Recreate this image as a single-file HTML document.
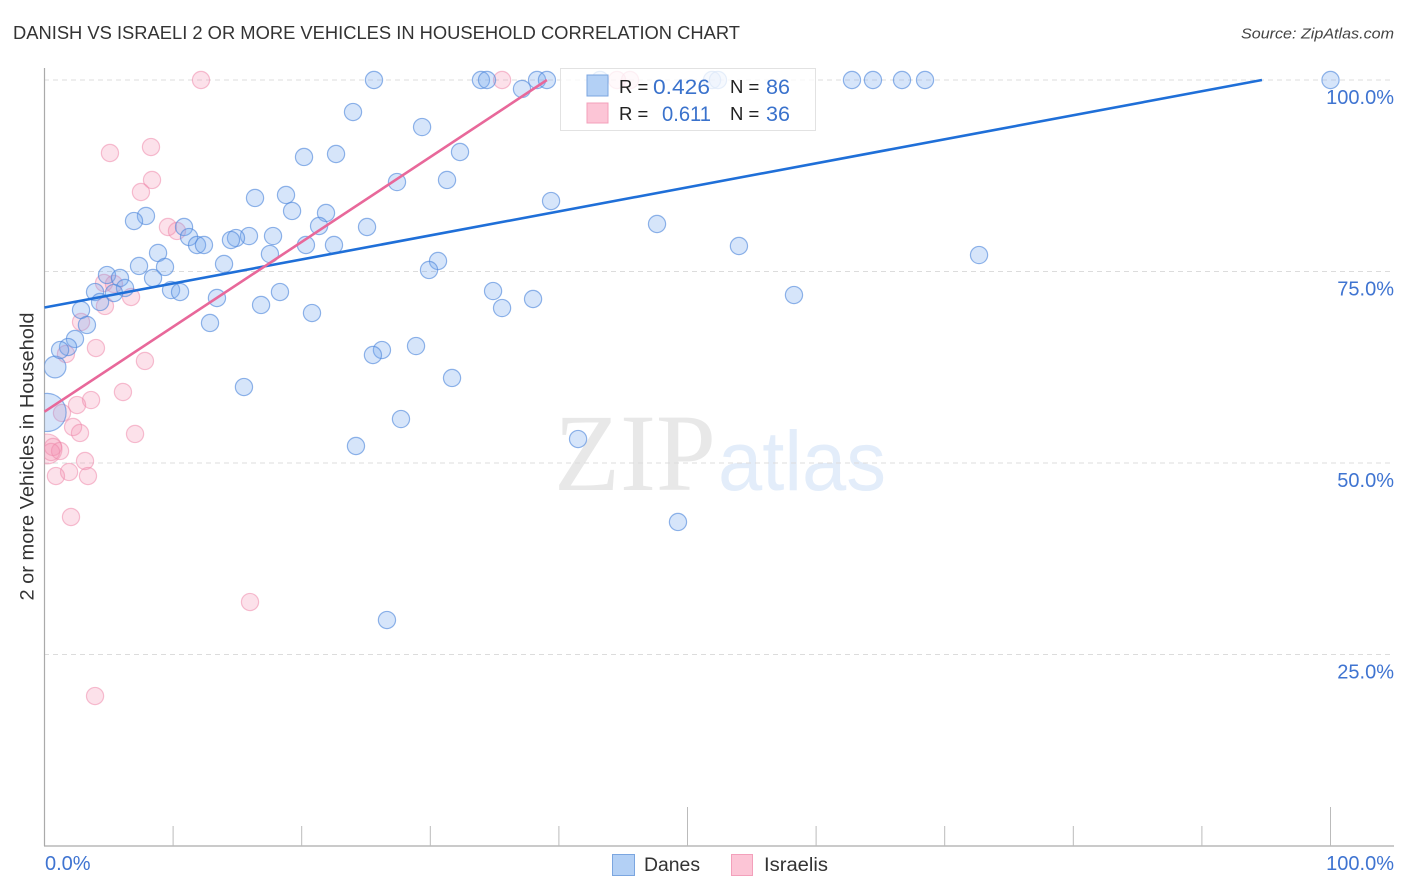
<!DOCTYPE html>
<html lang="en">
<head>
<meta charset="utf-8">
<title>Danish vs Israeli 2 or More Vehicles in Household Correlation Chart</title>
<style>
html,body{margin:0;padding:0;background:#fff;}
svg{display:block;font-family:"Liberation Sans",sans-serif;}
</style>
</head>
<body>
<svg id="chart" width="1406" height="892" viewBox="0 0 1406 892" xmlns="http://www.w3.org/2000/svg">
  <defs>
    <clipPath id="plot-clip"><rect x="44.5" y="60" width="1350" height="786"/></clipPath>
  </defs>
  <text x="13" y="39" font-size="18" fill="#333" textLength="727" lengthAdjust="spacingAndGlyphs">DANISH VS ISRAELI 2 OR MORE VEHICLES IN HOUSEHOLD CORRELATION CHART</text>
  <text x="1241" y="38.5" font-size="15" font-style="italic" fill="#444" textLength="153" lengthAdjust="spacingAndGlyphs">Source: ZipAtlas.com</text>
  <text transform="translate(33.5,456.5) rotate(-90)" font-size="19" fill="#333" text-anchor="middle" textLength="288" lengthAdjust="spacingAndGlyphs">2 or more Vehicles in Household</text>
  <g>
    <text x="554" y="490" font-family="'Liberation Serif',serif" font-size="110" fill="#e8e8e8" textLength="162" lengthAdjust="spacingAndGlyphs">ZIP</text>
    <text x="718" y="490" font-size="84" fill="#e3edfa" textLength="168" lengthAdjust="spacingAndGlyphs">atlas</text>
  </g>
  <g id="grid"></g>
  <g id="axes"></g>
  <g clip-path="url(#plot-clip)">
    <g id="israeli-points"></g>
    <g id="dane-points"></g>
  </g>
  <g id="trends"></g>

  <g>
    <rect x="560.5" y="68.5" width="255" height="62" fill="#fff" fill-opacity="0.78" stroke="#e2e2e2"/>
    <rect x="587" y="75" width="21" height="21" fill="#b3d0f5" stroke="#7ba6e0"/>
    <rect x="587" y="103" width="21" height="20" fill="#fcc5d6" stroke="#f3a0bb"/>
    <text x="619" y="93" font-size="18.5" fill="#222">R =</text>
    <text x="653" y="94" font-size="21" fill="#3a72cc" textLength="57" lengthAdjust="spacingAndGlyphs">0.426</text>
    <text x="730" y="93" font-size="18.5" fill="#222">N =</text>
    <text x="766" y="94" font-size="21" fill="#3a72cc" textLength="24" lengthAdjust="spacingAndGlyphs">86</text>
    <text x="619" y="120" font-size="18.5" fill="#222">R =</text>
    <text x="662" y="121" font-size="21" fill="#3a72cc" textLength="49" lengthAdjust="spacingAndGlyphs">0.611</text>
    <text x="730" y="120" font-size="18.5" fill="#222">N =</text>
    <text x="766" y="121" font-size="21" fill="#3a72cc" textLength="24" lengthAdjust="spacingAndGlyphs">36</text>
  </g>

  <g>
    <rect x="612.5" y="854.5" width="22" height="21" fill="#b3d0f5" stroke="#7ba6e0"/>
    <text x="644" y="871" font-size="19" fill="#333" textLength="56" lengthAdjust="spacingAndGlyphs">Danes</text>
    <rect x="731.5" y="854.5" width="21" height="21" fill="#fcc5d6" stroke="#f3a0bb"/>
    <text x="764" y="871" font-size="19" fill="#333" textLength="64" lengthAdjust="spacingAndGlyphs">Israelis</text>
  </g>
</svg>
<script>
// ---- Data (percent values) ----
const danesX = [0.2,0.82,25.62,33.94,34.41,38.30,39.07,43.20,51.91,52.37,62.79,64.42,66.68,68.47,100,37.13,23.99,29.36,32.31,20.18,22.67,31.30,27.41,18.78,16.37,39.39,19.25,21.89,7.89,6.96,10.85,21.35,25.08,47.63,11.24,15.90,17.77,14.89,14.50,11.86,12.40,20.33,22.51,54.00,17.53,72.67,8.83,13.96,7.35,9.37,30.60,29.90,4.86,5.87,8.44,6.26,9.84,10.54,3.93,5.40,18.31,34.88,58.28,13.41,4.32,16.84,37.99,35.58,2.84,20.80,3.30,12.87,2.37,1.83,1.21,28.89,26.24,25.54,31.69,15.51,27.72,41.49,24.22,49.26,26.63];
const danesY = [56.60,62.53,100,100,100,100,100,100,100,100,100,100,100,100,100,98.83,95.82,93.86,90.60,89.95,90.34,86.95,86.68,84.99,84.60,84.20,82.90,82.64,82.25,81.59,80.81,80.94,80.81,81.20,79.50,79.63,79.63,79.37,79.11,78.46,78.46,78.46,78.46,78.33,77.28,77.15,77.42,75.98,75.72,75.59,76.37,75.20,74.54,74.15,74.15,72.85,72.58,72.32,72.32,72.19,72.32,72.45,71.93,71.54,71.02,70.63,71.41,70.23,69.97,69.58,68.02,68.28,66.19,65.14,64.75,65.27,64.75,64.10,61.10,59.92,55.74,53.13,52.22,42.30,29.50];
const danesWeight = [4.9,1.6];
const israelisX = [0.2,12.17,35.58,44.52,45.53,8.28,5.09,8.36,7.50,9.60,10.30,4.63,5.40,6.73,4.70,2.84,4.00,1.67,7.81,6.10,3.62,2.53,1.36,7.04,2.22,2.76,0.66,1.21,0.51,3.15,1.91,0.89,3.38,2.06,15.98,3.93];
const israelisY = [51.83,100,100,100,100,91.25,90.47,86.95,85.38,80.81,80.29,73.50,73.37,71.67,70.50,68.41,65.01,64.23,63.32,59.27,58.22,57.57,56.53,53.79,54.70,53.92,52.09,51.57,51.44,50.26,48.83,48.30,48.30,42.95,31.85,19.58];
const israelisWeight = [3.0];
const danesTrendX = [0,94.67];
const danesTrendY = [70.3,100];
const israelisTrendX = [0,39.07];
const israelisTrendY = [56.7,100];
const yTicks = [100,75,50,25];
const yTickLabels = ["100.0%","75.0%","50.0%","25.0%"];
const xTicks = [10,20,30,40,50,60,70,80,90,100];
const xMajorTicks = [50,100];
const xEndValues = [0,100];
const xEndLabels = ["0.0%","100.0%"];

// ---- Axis functions ----
function sx(v){ return 44.5 + v * 12.86; }
function sy(v){ return 846 - v * 7.66; }
function radius(w){ return 8.6 * Math.sqrt(w); }

const NS = "http://www.w3.org/2000/svg";
function mk(tag, parent, attrs){
  const el = document.createElementNS(NS, tag);
  for (const k in attrs) el.setAttribute(k, attrs[k]);
  parent.appendChild(el);
  return el;
}

const grid = document.getElementById("grid");
const axes = document.getElementById("axes");

yTicks.forEach(function(v, i){
  const ln = mk("line", grid, {x1:44, x2:1394, y1:sy(v), y2:sy(v), stroke:"#dcdcdc", "stroke-width":1, "stroke-dasharray":"5 4"});
  
  
  const t = mk("text", axes, {x:1394, y:sy(v)+24, "font-size":20, fill:"#3f74d1", "text-anchor":"end"});
  t.textContent = yTickLabels[i];
  
  
});

const yAxis = mk("line", axes, {x1:44.5, x2:44.5, y1:68, y2:846, stroke:"#aaa", "stroke-width":1.2});


const xAxis = mk("line", axes, {x1:44, x2:1394, y1:846, y2:846, stroke:"#aaa", "stroke-width":1.2});



xTicks.forEach(function(v){
  const top = xMajorTicks.indexOf(v) >= 0 ? 807 : 826;
  const tk = mk("line", axes, {x1:sx(v), x2:sx(v), y1:top, y2:846, stroke:"#bbb", "stroke-width":1});
  
  
});

xEndValues.forEach(function(v, i){
  const t = mk("text", axes, {x: i === 0 ? sx(v) + 0.5 : 1394, y:870, "font-size":20, fill:"#3f74d1", "text-anchor": i === 0 ? "start" : "end"});
  t.textContent = xEndLabels[i];
  
  
});

const israeliGroup = document.getElementById("israeli-points");
israelisX.forEach(function(v, i){
  const w = israelisWeight[i] || 1;
  const c = mk("circle", israeliGroup, {cx:sx(v), cy:sy(israelisY[i]), r:radius(w), fill:"#f58fb0", "fill-opacity":0.27, stroke:"#ee86a8", "stroke-opacity":0.52, "stroke-width":1.2});
  
  
});

const daneGroup = document.getElementById("dane-points");
danesX.forEach(function(v, i){
  const w = danesWeight[i] || 1;
  const c = mk("circle", daneGroup, {cx:sx(v), cy:sy(danesY[i]), r:radius(w), fill:"#78aaee", "fill-opacity":0.3, stroke:"#4f88dc", "stroke-opacity":0.62, "stroke-width":1.2});
  
  
});

const trends = document.getElementById("trends");
const danesLine = mk("line", trends, {x1:sx(danesTrendX[0]), y1:sy(danesTrendY[0]), x2:sx(danesTrendX[1]), y2:sy(danesTrendY[1]), stroke:"#1f6fd8", "stroke-width":2.6});


const israelisLine = mk("line", trends, {x1:sx(israelisTrendX[0]), y1:sy(israelisTrendY[0]), x2:sx(israelisTrendX[1]), y2:sy(israelisTrendY[1]), stroke:"#e8689a", "stroke-width":2.6});


</script>
</body>
</html>
